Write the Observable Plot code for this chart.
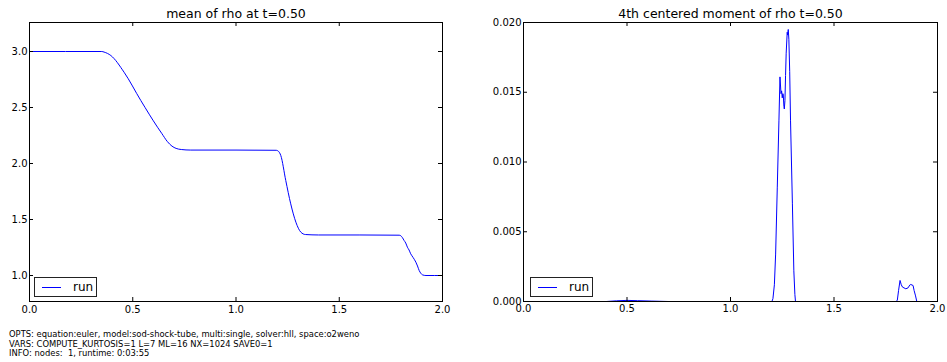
<!DOCTYPE html>
<html>
<head>
<meta charset="utf-8">
<script src="https://cdn.jsdelivr.net/npm/d3@7"></script>
<script src="https://cdn.jsdelivr.net/npm/@observablehq/plot@0.6"></script>
<style>
  html, body { margin: 0; padding: 0; background: white; }
  #root { position: relative; width: 947px; height: 362px; overflow: hidden; font-family: "DejaVu Sans", sans-serif; }
  .panel { position: absolute; top: 0; }
  .legend { position: absolute; box-sizing: border-box; width: 63px; height: 20px; border: 1px solid #222; background: white; }
  .legend .sw { position: absolute; left: 7px; top: 9px; width: 19px; height: 0; border-top: 1px solid #0000ff; }
  .legend .lb { position: absolute; left: 38px; top: 1px; font-size: 12px; line-height: 16px; color: #000; }
  #footer { position: absolute; left: 9px; top: 330px; font-size: 8.4px; line-height: 9.7px; color: #000; white-space: pre; }
</style>
</head>
<body>
<div id="root"></div>
<script>
// ---- data ----
const xTicks = [0, 0.5, 1.0, 1.5, 2.0];
const meanTicks = [1.0, 1.5, 2.0, 2.5, 3.0];
const momTicks = [0, 0.005, 0.010, 0.015, 0.020];

const meanX = [0, 0.35, 0.361, 0.394, 0.458, 0.539, 0.620, 0.640, 0.668, 0.690, 0.710, 0.735, 0.781, 1.0, 1.195, 1.205, 1.217, 1.241, 1.265, 1.290, 1.314, 1.336, 1.40, 1.60, 1.79, 1.798, 1.806, 1.814, 1.822, 1.830, 1.838, 1.846, 1.858, 1.871, 1.879, 1.887, 1.895, 1.903, 1.92, 2.0];
const meanY = [3.0, 3.0, 2.995, 2.964, 2.815, 2.5625, 2.324, 2.27, 2.195, 2.155, 2.135, 2.125, 2.12, 2.12, 2.118, 2.11, 2.071, 1.848, 1.64, 1.476, 1.387, 1.366, 1.362, 1.362, 1.36, 1.355, 1.338, 1.313, 1.290, 1.253, 1.228, 1.194, 1.160, 1.119, 1.085, 1.045, 1.020, 1.006, 1.0, 1.0];

const momX = [0, 0.40, 0.45, 0.50, 0.55, 0.62, 0.70, 1.0, 1.20, 1.205, 1.212, 1.218, 1.226, 1.234, 1.239, 1.244, 1.247, 1.250, 1.253, 1.255, 1.258, 1.260, 1.263, 1.266, 1.269, 1.274, 1.276, 1.279, 1.282, 1.286, 1.290, 1.299, 1.306, 1.311, 1.314, 1.6, 1.80, 1.806, 1.812, 1.819, 1.825, 1.831, 1.847, 1.858, 1.866, 1.871, 1.877, 1.882, 1.887, 1.894, 1.90, 2.0];
const momY = [0, 0, 0.00005, 0.00008, 0.00006, 0.00003, 0, 0, 0, 0.0002, 0.0012, 0.0034, 0.0082, 0.0130, 0.0161, 0.0149, 0.0151, 0.0146, 0.0149, 0.0148, 0.0140, 0.0138, 0.0144, 0.0162, 0.0178, 0.0193, 0.0191, 0.0195, 0.0188, 0.0165, 0.0130, 0.0070, 0.0022, 0.0005, 0, 0, 0, 0.0001, 0.0008, 0.00151, 0.00120, 0.00103, 0.00091, 0.00098, 0.00118, 0.00122, 0.00118, 0.00115, 0.00079, 0.0004, 0, 0];

const titles = ["mean of rho at t=0.50", "4th centered moment of rho t=0.50"];
const legendLabel = "run";
const footerLines = [
  "OPTS: equation:euler, model:sod-shock-tube, multi:single, solver:hll, space:o2weno",
  "VARS: COMPUTE_KURTOSIS=1 L=7 ML=16 NX=1024 SAVE0=1",
  "INFO: nodes:  1, runtime: 0:03:55"
];

const meanData = meanX.map((x, i) => ({x, y: meanY[i]}));
const momData = momX.map((x, i) => ({x, y: momY[i]}));

function panel({data, yDomain, yTicks, yFmt, title, width, marginLeft, marginRight, xPad, curve}) {
  const height = 320, marginTop = 22, marginBottom = 19;
  const fw = width - marginLeft - marginRight;
  const fh = height - marginTop - marginBottom;
  const tl = 4;
  return Plot.plot({
    width, height, marginLeft, marginRight, marginTop, marginBottom,
    style: {fontFamily: "DejaVu Sans, sans-serif", fontSize: "10px", background: "white", color: "black", overflow: "visible"},
    x: {domain: [0, 2]},
    y: {domain: yDomain},
    marks: [
      Plot.line(data, {x: "x", y: "y", stroke: "#0000ff", strokeWidth: 1, curve}),
      Plot.frame({stroke: "black", strokeWidth: 1}),
      Plot.tickY(yTicks, {y: d => d, insetRight: fw - tl, stroke: "black"}),
      Plot.tickY(yTicks, {y: d => d, insetLeft: fw - tl, stroke: "black"}),
      Plot.tickX(xTicks, {x: d => d, insetTop: fh - tl, stroke: "black"}),
      Plot.tickX(xTicks, {x: d => d, insetBottom: fh - tl, stroke: "black"}),
      Plot.axisX({ticks: xTicks, tickSize: 0, tickPadding: xPad, tickFormat: d => d.toFixed(1), fontSize: 10, label: null}),
      Plot.axisY({ticks: yTicks, tickSize: 0, tickPadding: 2, tickFormat: yFmt, fontSize: 10, label: null}),
      Plot.text([title], {text: d => d, frameAnchor: "top", lineAnchor: "bottom", dy: -5, fontSize: 12.5, fill: "black"})
    ]
  });
}

const root = document.getElementById("root");

const left = panel({data: meanData, yDomain: [0.768, 3.259], yTicks: meanTicks, yFmt: d => d.toFixed(1), title: titles[0], width: 470, marginLeft: 29, marginRight: 28, xPad: 4, curve: "monotone-x"});
const lw = document.createElement("div"); lw.className = "panel"; lw.style.left = "0px"; lw.appendChild(left); root.appendChild(lw);

const right = panel({data: momData, yDomain: [0, 0.02], yTicks: momTicks, yFmt: d => d.toFixed(3), title: titles[1], width: 477, marginLeft: 53, marginRight: 10, xPad: 3, curve: "linear"});
const rw = document.createElement("div"); rw.className = "panel"; rw.style.left = "470px"; rw.appendChild(right); root.appendChild(rw);

function legend(x, y) {
  const d = document.createElement("div");
  d.className = "legend";
  d.style.left = x + "px"; d.style.top = y + "px";
  const sw = document.createElement("div"); sw.className = "sw";
  const lb = document.createElement("div"); lb.className = "lb"; lb.textContent = legendLabel;
  d.appendChild(sw); d.appendChild(lb);
  root.appendChild(d);
}
legend(34, 277);
legend(530, 277);

const footer = document.createElement("div");
footer.id = "footer";
footer.textContent = footerLines.join("\n");
root.appendChild(footer);
</script>
</body>
</html>
